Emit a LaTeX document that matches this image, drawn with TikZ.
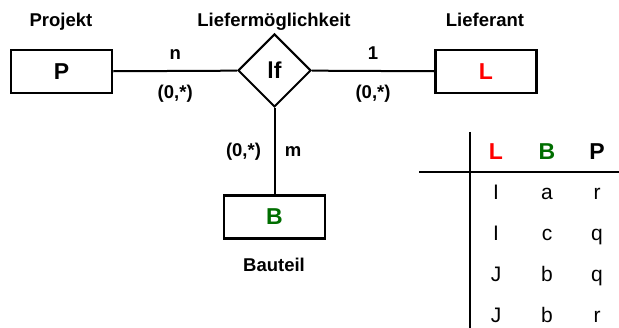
\documentclass[tikz,border=0pt]{standalone}
\usepackage{fontspec}
\setmainfont{Liberation Sans}
\usetikzlibrary{shapes.geometric}
\definecolor{bgreen}{RGB}{0,110,0}
\begin{document}
\begin{tikzpicture}[x=1pt, y=-1pt, line width=2pt,
     font=\bfseries\fontsize{18.5}{22}\selectfont,
     big/.style={font=\bfseries\fontsize{23}{26}\selectfont},
     entity/.style={draw, big, line width=2.5pt, minimum width=101pt,
          minimum height=43pt, inner sep=0pt},
     rel/.style={draw, diamond, big, minimum width=73pt,
          minimum height=73pt, inner sep=0pt},
     lbl/.style={inner sep=0pt, anchor=base},
     cell/.style={inner sep=0pt, anchor=base,
          font=\mdseries\fontsize{21}{24}\selectfont}]
\useasboundingbox (0,0) rectangle (619,328);
\node[entity] (P) at (61.5,71.5) {P};
\node[rel] (lf) at (274.5,70.5) {lf};
\node[entity, text=red] (L) at (486,71.5) {L};
\node[entity, text=bgreen] (B) at (274.5,217) {B};
\node[lbl] (projekt) at (61,27) {Projekt};
\node[lbl] (liefmoegl) at (274,27) {Liefermöglichkeit};
\node[lbl] (lieferant) at (485,27) {Lieferant};
\node[lbl] (bauteil) at (274,272) {Bauteil};
\draw (P) -- node[lbl, yshift=11pt] (n) {n}
     node[lbl, yshift=-28pt] (cardP) {(0,*)} (lf);
\draw (lf) -- node[lbl, yshift=11pt] (eins) {1}
     node[lbl, yshift=-28pt] (cardL) {(0,*)} (L);
\draw (lf) -- node[lbl, xshift=-31pt, yshift=-5.5pt] (cardB) {(0,*)}
     node[lbl, xshift=18.5pt, yshift=-5.5pt] (m) {m} (B);
% table
\draw (470,132) -- (470,328);
\draw (419,172) -- (619,172);
\node[lbl, big, text=red] (hL) at (496,160) {L};
\node[lbl, big, text=bgreen] (hB) at (547,160) {B};
\node[lbl, big] (hP) at (597,160) {P};
\foreach \l/\b/\p [count=\i] in {I/a/r, I/c/q, J/b/q, J/b/r}{
    \node[cell] (l\i) at (496,159.3+40.7*\i) {\l};
    \node[cell] (b\i) at (547,159.3+40.7*\i) {\b};
    \node[cell] (p\i) at (597,159.3+40.7*\i) {\p};
}
\end{tikzpicture}
\end{document}
